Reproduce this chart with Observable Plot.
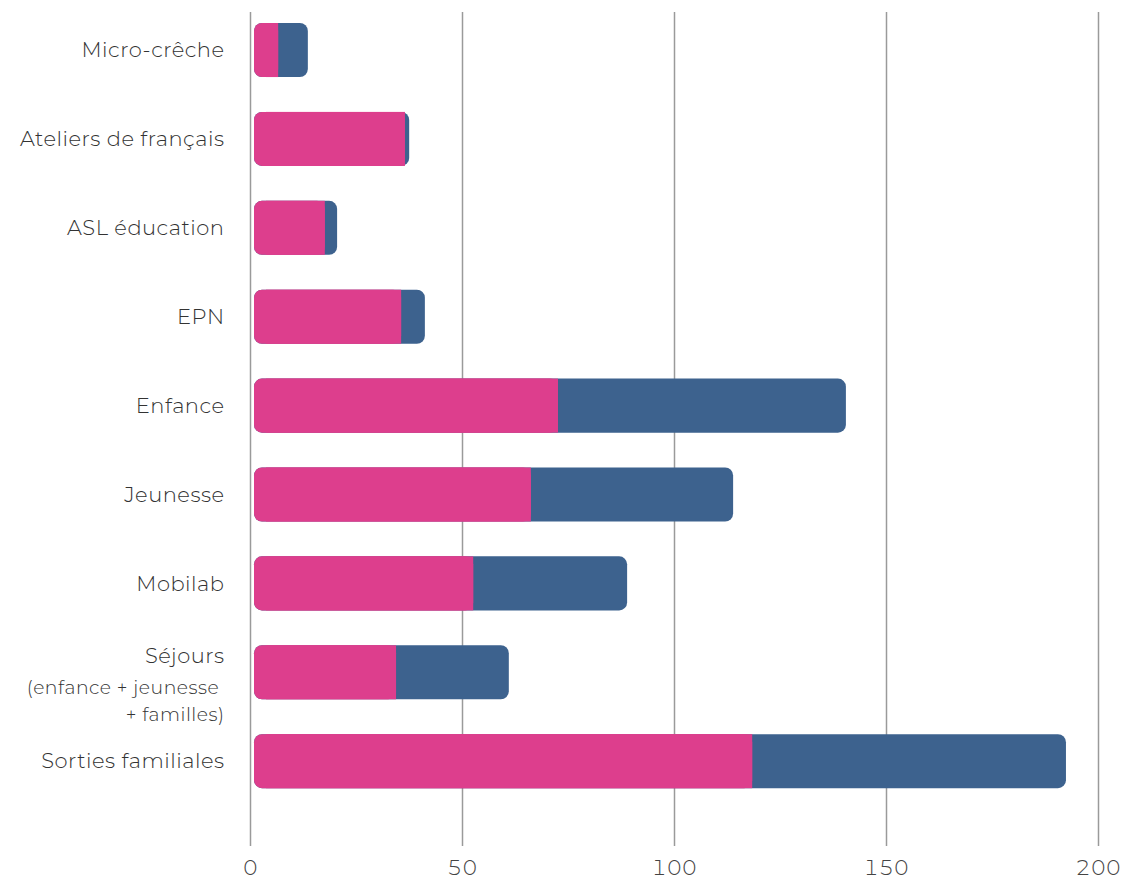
<!DOCTYPE html>
<html>
<head>
<meta charset="utf-8">
<script src="https://cdn.jsdelivr.net/npm/d3@7"></script>
<script src="https://cdn.jsdelivr.net/npm/@observablehq/plot@0.6"></script>
<style>
  html, body { margin: 0; padding: 0; background: #fff; }
  #chart { width: 1121px; height: 878px; }
</style>
</head>
<body>
<div id="chart"></div>
<script>
const categories = ["Micro-crêche", "Ateliers de français", "ASL éducation", "EPN", "Enfance", "Jeunesse", "Mobilab", "Séjours", "Sorties familiales"];
const pinkValues = [5.7, 35.6, 16.7, 34.7, 71.7, 65.3, 51.7, 33.5, 117.5];
const blueValues = [7.0, 1.0, 2.9, 5.6, 67.9, 47.7, 36.3, 26.6, 74.0];
const labelNotes = ["", "", "", "", "", "", "", "(enfance + jeunesse\u00a0\n+ familles)", ""];
const xTicks = [0, 50, 100, 150, 200];

const PINK = "#DD3E8D";
const BLUE = "#3D628E";
const FONT = "Montserrat, 'Open Sans', Lato, sans-serif";

const rows = categories.map((name, i) => ({
  name,
  pink: pinkValues[i],
  total: pinkValues[i] + blueValues[i],
  note: labelNotes[i]
}));
const plainRows = rows.filter(d => !d.note);
const notedRows = rows.filter(d => d.note);

const chart = Plot.plot({
  width: 1121,
  height: 878,
  marginLeft: 250,
  marginRight: 23,
  marginTop: 12,
  marginBottom: 32,
  style: { fontFamily: FONT, fontSize: "21px", color: "#444", fontWeight: 300, background: "#fff" },
  x: { domain: [0, 200], axis: null },
  y: { domain: categories, axis: null, paddingInner: 0.392, paddingOuter: 0.387, align: 0.16, round: false },
  marks: [
    Plot.ruleX(xTicks, { stroke: "#9a9a9a", strokeWidth: 1.5 }),
    Plot.axisX({ ticks: xTicks, tickSize: 0, tickPadding: 14, fontSize: 21, fill: "#444" }),
    Plot.barX(rows, { x1: 0, x2: "total", y: "name", fill: BLUE, rx: 8, dx: 4 }),
    Plot.barX(rows, { x1: 0, x2: "pink", y: "name", fill: PINK, rx: 8, dx: 4 }),
    Plot.barX(rows, { x1: 0, x2: "pink", y: "name", fill: PINK, insetLeft: 12, dx: 4 }),
    Plot.text(plainRows, {
      y: "name", text: "name", frameAnchor: "left", textAnchor: "end",
      dx: -26, fill: "#333", fontSize: 21, fontWeight: 300
    }),
    Plot.text(notedRows, {
      y: "name", text: "name", frameAnchor: "left", textAnchor: "end",
      dx: -26, dy: -16.5, fill: "#333", fontSize: 21, fontWeight: 300
    }),
    Plot.text(notedRows, {
      y: "name", text: "note", frameAnchor: "left", textAnchor: "end",
      dx: -26, dy: 26, fill: "#333", fontSize: 18.8, fontWeight: 300, lineHeight: 1.43
    })
  ]
});
document.getElementById("chart").appendChild(chart);
d3.select(chart).selectAll("text").style("letter-spacing", "0.5px");
</script>
</body>
</html>
